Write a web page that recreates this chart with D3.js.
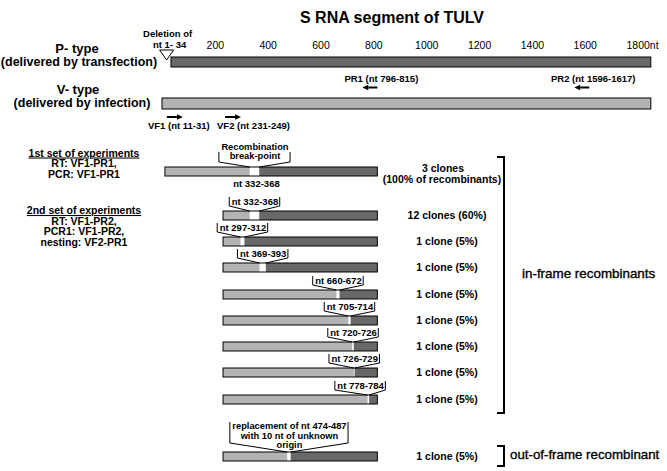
<!DOCTYPE html>
<html>
<head>
<meta charset="utf-8">
<script src="https://cdn.jsdelivr.net/npm/d3@7"></script>
<style>
  body { margin: 0; background: #fff; }
  svg { display: block; }
  text { font-family: "Liberation Sans", Arial, Helvetica, sans-serif; fill: #000; }
</style>
</head>
<body>
<svg id="chart" width="667" height="471"></svg>
<script>
// S RNA segment of TULV - recombinant map

const title = 'S RNA segment of TULV';
const segmentLength = 1850;
const tickValues = [200, 400, 600, 800, 1000, 1200, 1400, 1600, 1800];
const deletionFrom = 1;
const deletionTo = 34;

const forwardNames = ['VF1', 'VF2'];
const forwardFrom = [11, 231];
const forwardTo = [31, 249];
const reverseNames = ['PR1', 'PR2'];
const reverseFrom = [796, 1596];
const reverseTo = [815, 1617];

const set1Lines = ['RT: VF1-PR1,', 'PCR: VF1-PR1'];
const set2Lines = ['RT: VF1-PR2,', 'PCR1: VF1-PR2,', 'nesting: VF2-PR1'];

// one entry per recombinant clone type
const ampliconFrom = [11, 231, 231, 231, 231, 231, 231, 231, 231, 231];
const ampliconTo = [815, 815, 815, 815, 815, 815, 815, 815, 815, 815];
const breakFrom = [332, 332, 297, 369, 660, 705, 720, 726, 778, 474];
const breakTo = [368, 368, 312, 393, 672, 714, 726, 729, 784, 487];
const cloneCounts = [3, 12, 1, 1, 1, 1, 1, 1, 1, 1];
const clonePercents = [100, 60, 5, 5, 5, 5, 5, 5, 5, 5];

// layout
const rowTop = [167, 211, 237, 263, 290, 316, 342, 368, 395, 452];
const forwardLabelDx = [-17, -6];
const LIGHT = '#b3b3b3';
const DARK = '#686868';

const svg = d3.select('#chart');
const x = d3.scaleLinear().domain([0, 1800]).range([162, 637.6]);

const label = (g, tx, ty, str, size, opts = {}) => g.append('text')
  .attr('x', tx).attr('y', ty)
  .attr('text-anchor', opts.anchor || 'middle')
  .attr('font-size', size)
  .attr('font-weight', opts.weight || 'bold')
  .text(str);

// 矢印: x1側に頭
const arrow = (x0, x1, y) => {
  const dir = Math.sign(x1 - x0);
  const head = 6;
  svg.append('line')
    .attr('x1', x0).attr('x2', x1 - dir * head)
    .attr('y1', y).attr('y2', y)
    .attr('stroke', '#000').attr('stroke-width', 2);
  svg.append('path')
    .attr('d', `M${x1},${y} L${x1 - dir * head},${y - 2.8} L${x1 - dir * head},${y + 2.8} Z`)
    .attr('fill', '#000');
};

// title
label(svg, 392, 23, title, 16);

// scale along the top
const axis = d3.axisTop(x).tickValues(tickValues).tickSize(0).tickPadding(0)
  .tickFormat(d3.format('d'));
const axisG = svg.append('g').attr('transform', 'translate(0,49)').call(axis);
axisG.select('.domain').remove();
axisG.selectAll('text')
  .attr('font-size', 10.5)
  .attr('font-family', '"Liberation Sans", Arial, sans-serif')
  .attr('dy', 0)
  .attr('fill', '#000')
  .each(function (d) {
    if (d === d3.max(tickValues)) {
      d3.select(this).attr('text-anchor', 'start').attr('x', -11.6).text(d + 'nt');
    }
  });

// P-type
label(svg, 77, 53, 'P- type', 13);
label(svg, 79, 66, '(delivered by transfection)', 12.5);
svg.append('rect')
  .attr('x', x(deletionTo)).attr('y', 57)
  .attr('width', x(segmentLength) - x(deletionTo)).attr('height', 10)
  .attr('fill', DARK).attr('stroke', '#000').attr('stroke-width', 1);
const delMid = x((deletionFrom + deletionTo) / 2);
svg.append('path')
  .attr('d', `M${delMid - 7},50 L${delMid + 7},50 L${delMid},60 Z`)
  .attr('fill', '#fff').attr('stroke', '#000').attr('stroke-width', 1);
label(svg, delMid + 1, 37, 'Deletion of', 9.5);
label(svg, delMid + 3, 47.5, `nt ${deletionFrom}- ${deletionTo}`, 9.5);

// reverse primers
reverseNames.forEach((n, i) => {
  label(svg, x(reverseTo[i]) + 4, 82, `${n} (nt ${reverseFrom[i]}-${reverseTo[i]})`, 9.5);
  arrow(x(reverseTo[i]), x(reverseTo[i]) - 15, 87.5);
});

// V-type
label(svg, 78, 94, 'V- type', 13);
label(svg, 82, 107, '(delivered by infection)', 12.5);
svg.append('rect')
  .attr('x', x(0)).attr('y', 98)
  .attr('width', x(segmentLength) - x(0)).attr('height', 11)
  .attr('fill', LIGHT).attr('stroke', '#000').attr('stroke-width', 1);

// forward primers
forwardNames.forEach((n, i) => {
  arrow(x(forwardFrom[i]) + 2, x(forwardFrom[i]) + 18, 117);
  label(svg, x(forwardFrom[i]) + forwardLabelDx[i], 128.5,
    `${n} (nt ${forwardFrom[i]}-${forwardTo[i]})`, 9.5, { anchor: 'start' });
});

// experiment descriptions
label(svg, 84, 156.5, '1st set of experiments', 10.5).attr('text-decoration', 'underline');
set1Lines.forEach((t, i) => label(svg, 84, 167 + i * 10.5, t, 10.5));
label(svg, 84, 214, '2nd set of experiments', 10.5).attr('text-decoration', 'underline');
set2Lines.forEach((t, i) => label(svg, 84, 224.5 + i * 10.5, t, 10.5));

// callout above a breakpoint
const callout = (i, lines, baseOffsets, vTop, vBottom, fontSize) => {
  const top = rowTop[i];
  const g = svg.append('g');
  const bx0 = x(breakFrom[i]);
  const bx1 = x(breakTo[i]);
  let cx = (bx0 + bx1) / 2;
  const texts = lines.map((t, k) => label(g, 0, top + baseOffsets[k], t, fontSize));
  const w = d3.max(texts, t => t.node().getComputedTextLength()) + 4;
  const maxRight = x(ampliconTo[i]) + 8;
  if (cx + w / 2 > maxRight) cx = maxRight - w / 2;
  texts.forEach(t => t.attr('x', cx + 0.5));
  const left = cx - w / 2;
  const right = cx + w / 2;
  g.append('path')
    .attr('d', `M${left},${top + vTop} V${top + vBottom} L${bx0},${top}` +
      ` M${right},${top + vTop} V${top + vBottom} L${bx1},${top}`)
    .attr('fill', 'none').attr('stroke', '#000').attr('stroke-width', 1);
};

// recombinant bars
const barH = 9;
rowTop.forEach((top, i) => {
  const a0 = x(ampliconFrom[i]);
  const a1 = x(ampliconTo[i]);
  const b0 = x(breakFrom[i]);
  const b1 = x(breakTo[i]);
  svg.append('rect').attr('x', a0).attr('y', top).attr('width', a1 - a0).attr('height', barH).attr('fill', '#fff');
  svg.append('rect').attr('x', a0).attr('y', top).attr('width', b0 - a0).attr('height', barH).attr('fill', LIGHT);
  svg.append('rect').attr('x', b1).attr('y', top).attr('width', a1 - b1).attr('height', barH).attr('fill', DARK);
  svg.append('rect').attr('x', a0).attr('y', top).attr('width', a1 - a0).attr('height', barH)
    .attr('fill', 'none').attr('stroke', '#000').attr('stroke-width', 1);

  const nt = `nt ${breakFrom[i]}-${breakTo[i]}`;
  if (i === 0) {
    callout(i, ['Recombination', 'break-point'], [-17, -8.5], -15, -5, 9.3);
    label(svg, (b0 + b1) / 2 + 2, top + barH + 11, nt, 9.5);
  } else if (i === rowTop.length - 1) {
    callout(i, [`replacement of ${nt}`, 'with 10 nt of unknown', 'origin'],
      [-23, -13.5, -4.5], -30, -9, 9.3);
  } else {
    callout(i, [nt], [-6], -14, -5, 9.5);
  }

  const c = cloneCounts[i];
  if (i === 0) {
    label(svg, 443, top + 5, `${c} clones`, 10.5);
    label(svg, 442, top + 16, `(${clonePercents[i]}% of recombinants)`, 10.5);
  } else {
    label(svg, 447, top + 8, `${c} clone${c > 1 ? 's' : ''} (${clonePercents[i]}%)`, 10.5);
  }
});

// brackets
const bracket = (y0, y1) => svg.append('path')
  .attr('d', `M497,${y0} H504 V${y1} H497`)
  .attr('fill', 'none').attr('stroke', '#000').attr('stroke-width', 2);
bracket(rowTop[0] - 10, rowTop[8] + 18);
bracket(rowTop[9] - 6, rowTop[9] + 14);

label(svg, 522, 278, 'in-frame recombinants', 13.4, { anchor: 'start', weight: 'normal' })
  .attr('stroke', '#000').attr('stroke-width', 0.35);
label(svg, 510, 459, 'out-of-frame recombinant', 13.3, { anchor: 'start', weight: 'normal' })
  .attr('stroke', '#000').attr('stroke-width', 0.35);
</script>
</body>
</html>
